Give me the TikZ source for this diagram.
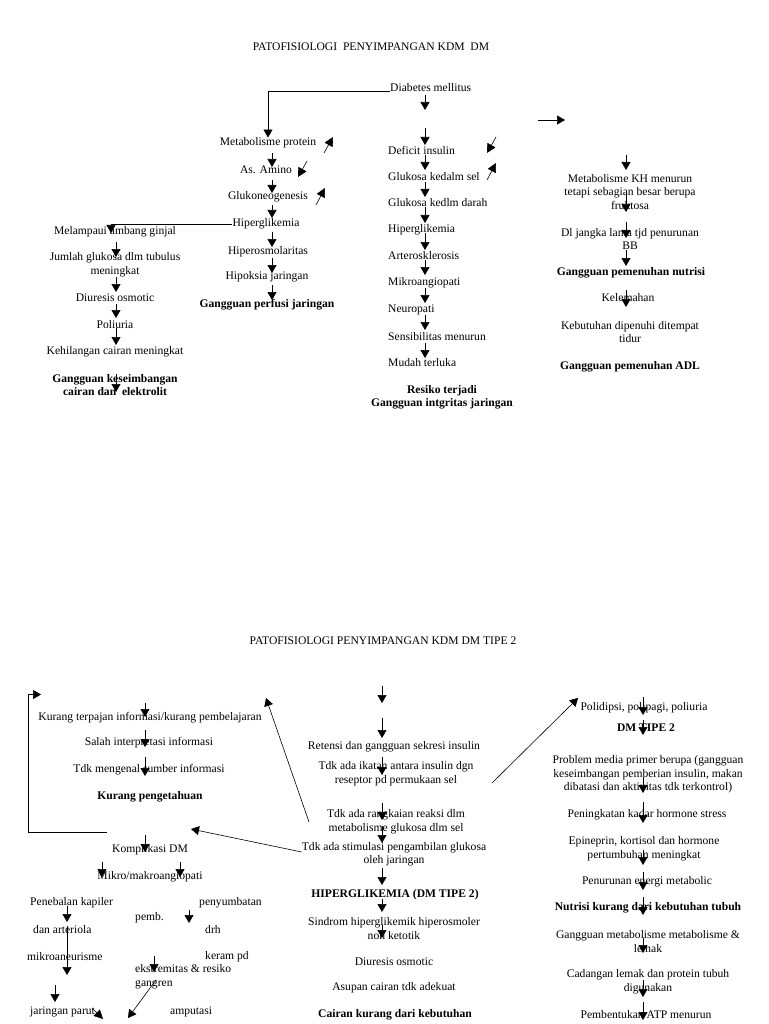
\documentclass[tikz,border=0pt]{standalone}
\usepackage{fontspec}
\setmainfont{Liberation Serif}
\usetikzlibrary{arrows.meta}
\begin{document}
\begin{tikzpicture}[x=1pt,y=-1pt,
  t/.style={inner sep=0pt, align=center, font=\fontsize{11.6}{13.5}\selectfont},
  tb/.style={inner sep=0pt, align=center, font=\fontsize{11.6}{13.5}\selectfont\bfseries},
  tl/.style={t, anchor=west},
  arr/.style={-{Triangle[width=9pt,length=8pt]}, line width=0.6pt},
  sarr/.style={-{Triangle[width=9pt,length=9pt]}, line width=0.6pt},
  ln/.style={line width=0.6pt}]
\useasboundingbox (0,0) rectangle (768,1024);
\fill[white] (0,0) rectangle (768,1024);

% ================= TOP DIAGRAM =================
\node[t] (title1) at (371,47) {PATOFISIOLOGI\ \ PENYIMPANGAN KDM\ \ DM};
\node[tl] (dm) at (390,88) {Diabetes mellitus};

\node[t] (mp) at (268,143) {Metabolisme protein};
\node[t] (asa) at (266,170) {As. Amino};
\node[t] (glk) at (268,197) {Glukoneogenesis};
\node[t] (hip1) at (266,224) {Hiperglikemia};
\node[t] (hos) at (268,252) {Hiperosmolaritas};
\node[t] (hpk) at (267,277) {Hipoksia jaringan};
\node[tb] (gpj) at (267,305) {Gangguan perfusi jaringan};

\node[t] (mel) at (115,232) {Melampaui ambang ginjal};
\node[t] (jml) at (115,264.5) {Jumlah glukosa dlm tubulus\\meningkat};
\node[t] (diu1) at (115,298) {Diuresis osmotic};
\node[t] (pol) at (115,325) {Poliuria};
\node[t] (keh) at (115,352) {Kehilangan cairan meningkat};
\node[tb] (gke) at (115,385) {Gangguan keseimbangan\\cairan dan\ \ elektrolit};

\node[tl] (di) at (388,150) {Deficit insulin};
\node[tl] (gks) at (388,177) {Glukosa kedalm sel};
\node[tl] (gkd) at (388,203) {Glukosa kedlm darah};
\node[tl] (hip2) at (388,230) {Hiperglikemia};
\node[tl] (art) at (388,256) {Arterosklerosis};
\node[tl] (mik) at (388,283) {Mikroangiopati};
\node[tl] (neu) at (388,310) {Neuropati};
\node[tl] (sen) at (388,337) {Sensibilitas menurun};
\node[tl] (mud) at (388,363) {Mudah terluka};
\node[tb] (res) at (442,397.5) {Resiko terjadi\\Gangguan intgritas jaringan};

\node[t] (mkh) at (630,192) {Metabolisme KH menurun\\tetapi sebagian besar berupa\\fruktosa};
\node[t] (dlj) at (630,239) {Dl jangka lama tjd penurunan\\BB};
\node[tb] (gpn) at (631,273) {Gangguan pemenuhan nutrisi};
\node[t] (kel) at (628,298) {Kelemahan};
\node[t] (keb) at (630,332) {Kebutuhan dipenuhi ditempat\\tidur};
\node[tb] (gadl) at (630,367) {Gangguan pemenuhan ADL};

% connectors top
\draw[arr] ([yshift=-3pt]dm.west) -| (mp.north);
\draw[arr] (hip1.west) -| (111,233);

\foreach \a/\b in {153/167,180/193,205/218,232/247,258/273,285/300}
  \draw[arr] (272,\a) -- (272,\b);
\foreach \a/\b in {242/257,277/292,304/318,328/345,374/392}
  \draw[arr] (116,\a) -- (116,\b);
\foreach \a/\b in {95/110,128/145,155/170,182/197,207/223,233/250,260/275,288/303,315/330,343/358}
  \draw[arr] (425,\a) -- (425,\b);
\foreach \a/\b in {155/170,193/212,222/238,250/266,290/307}
  \draw[arr] (626,\a) -- (626,\b);
\draw[arr] (538,120) -- (565,120);

\draw[sarr] (324,153) -- (333,137);
\draw[sarr] (307,161) -- (298,177);
\draw[sarr] (316,205) -- (325,188);
\draw[sarr] (496,137) -- (487,153);
\draw[sarr] (487,180) -- (496,163);

% ================= BOTTOM DIAGRAM =================
\node[t] (title2) at (383,641) {PATOFISIOLOGI PENYIMPANGAN KDM DM TIPE 2};

\node[t] (kti) at (150,718) {Kurang\ terpajan informasi/kurang pembelajaran};
\node[t] (sii) at (149,743) {Salah interpretasi informasi};
\node[t] (tms) at (149,770) {Tdk mengenal sumber informasi};
\node[tb] (kp) at (150,797) {Kurang pengetahuan};

\node[t] (kom) at (150,850) {Komplikasi DM};
\node[t] (mm) at (150,877) {Mikro/makroangiopati};
\node[tl] (pk) at (30,903) {Penebalan kapiler};
\node[tl] (pemb) at (135,918) {pemb.};
\node[tl] (peny) at (199,903) {penyumbatan};
\node[tl] (dan) at (33,930) {dan arteriola};
\node[tl] (drh) at (205,930) {drh};
\node[tl] (mik2) at (27,957) {mikroaneurisme};
\node[tl] (ker) at (205,957) {keram pd};
\node[tl, align=left] (eks) at (135,976.5) {ekstremitas \& resiko\\gangren};
\node[tl] (jar) at (30,1012) {jaringan parut};
\node[tl] (amp) at (170,1012) {amputasi};

\node[t] (ret) at (394,747) {Retensi dan gangguan sekresi insulin};
\node[t] (tdi) at (396,773.5) {Tdk ada ikatan antara insulin dgn\\reseptor pd permukaan sel};
\node[t] (tdr) at (396,821.5) {Tdk ada rangkaian reaksi dlm\\metabolisme glukosa dlm sel};
\node[t] (tds) at (394,854) {Tdk ada stimulasi pengambilan glukosa\\oleh jaringan};
\node[tb] (hg) at (395,895) {HIPERGLIKEMIA (DM TIPE 2)};
\node[t] (sin) at (394,928.5) {Sindrom hiperglikemik hiperosmoler\\non ketotik};
\node[t] (diu2) at (394,962) {Diuresis osmotic};
\node[t] (asu) at (394,988) {Asupan cairan tdk adekuat};
\node[tb] (ck) at (395,1015) {Cairan kurang dari kebutuhan};

\node[t] (pp) at (644,708) {Polidipsi, polipagi, poliuria};
\node[tb] (dmt) at (646,728) {DM TIPE 2};
\node[t] (pmp) at (648,774.5) {Problem media primer berupa (gangguan\\keseimbangan pemberian insulin, makan\\dibatasi dan aktivitas tdk terkontrol)};
\node[t] (pks) at (647,815) {Peningkatan kadar hormone stress};
\node[t] (epi) at (644,848.5) {Epineprin, kortisol dan hormone\\pertumbuhan meningkat};
\node[t] (pen) at (647,882) {Penurunan energi metabolic};
\node[tb] (nkt) at (648,908) {Nutrisi kurang dari kebutuhan tubuh};
\node[t] (gml) at (648,941.5) {Gangguan metabolisme metabolisme \&\\lemak};
\node[t] (cad) at (648,981.5) {Cadangan lemak dan protein tubuh\\digunakan};
\node[t] (pat) at (646,1015) {Pembentukan ATP menurun};

% connectors bottom
\draw[arr] (107,832) -- (28,832) -- (28,694.5) -- (41,694.5);
\foreach \a/\b in {703/717,730/747,757/776,835/852}
  \draw[arr] (145,\a) -- (145,\b);
\draw[arr] (102,862) -- (102,877);
\draw[arr] (180,862) -- (180,877);
\draw[arr] (67,906) -- (67,922);
\draw[arr] (67,926) -- (67,975);
\draw[arr] (189,910) -- (189,923);
\draw[arr] (154,956) -- (154,972);
\draw[arr] (55,985) -- (55,1002);
\draw[sarr] (92,1008) -- (103,1019);
\draw[arr] (156,980) -- (128,1018);

\foreach \a/\b in {686/703,718/738,757/775,803/820,826/843,868/885,899/912,925/938}
  \draw[arr] (382,\a) -- (382,\b);
\draw[arr] (492,783) -- (578,698);
\draw[arr] (309,822) -- (266,698);
\draw[arr] ([yshift=2pt]tds.west) -- (191,829);

\foreach \a/\b in {697/715,720/735,777/793,802/823,850/865,872/890,897/915,938/953,980/997,1002/1020}
  \draw[arr] (643,\a) -- (643,\b);
\end{tikzpicture}
\end{document}
